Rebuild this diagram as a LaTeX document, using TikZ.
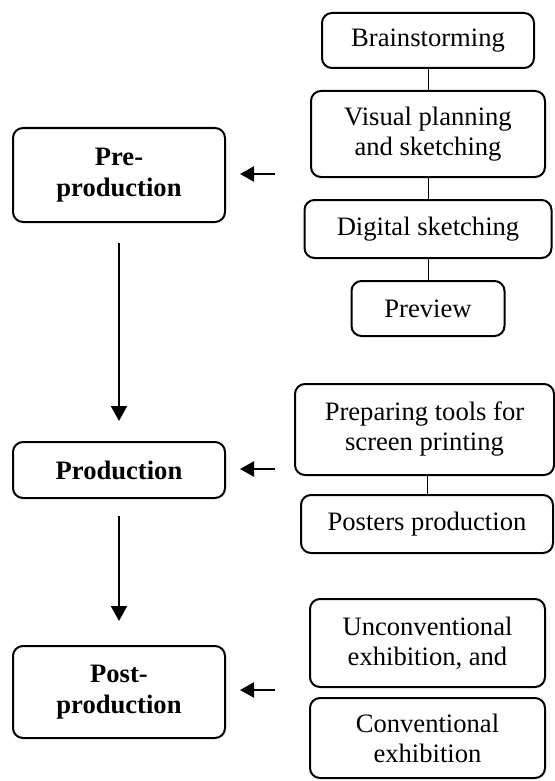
\documentclass[tikz,border=0pt]{standalone}
\usepackage{fontspec}
\setmainfont{Liberation Serif}
\usetikzlibrary{arrows.meta}

\begin{document}
\begin{tikzpicture}[x=0.5pt,y=-0.5pt,
  box/.style={draw,line width=1pt,rounded corners=5pt,align=center,inner sep=0pt,
    font=\fontsize{13.3}{15}\selectfont},
  stage/.style={box,minimum width=106pt,font=\fontsize{13.3}{15.5}\selectfont\bfseries},
  link/.style={line width=0.5pt},
  feed/.style={line width=1.2pt,shorten >=7pt,-{Triangle[length=7pt,width=7.5pt]}},
  flow/.style={line width=1pt,-{Triangle[length=7.5pt,width=8pt]}}]
 \useasboundingbox (0,0) rectangle (555,781);
 % stages
 \node[stage,minimum height=47pt] (pre) at (119,175) {Pre-\\production};
 \node[stage,minimum height=28pt] (prod) at (119,470) {Production};
 \node[stage,minimum height=46pt] (post) at (119,692) {Post-\\production};
 \draw[flow,shorten <=10pt,shorten >=10pt] (pre.south) -- (prod.north);
 \draw[flow,shorten <=8.5pt,shorten >=12pt] (prod.south) -- (post.north);
 %
 \node[box,minimum width=106pt,minimum height=27.5pt] (brain) at (428,40.5) {Brainstorming};
 \node[box,minimum width=117pt,minimum height=43pt] (visual) at (428,134) {Visual planning\\and sketching};
 \node[box,minimum width=123.5pt,minimum height=29pt] (digital) at (428,229) {Digital sketching};
 \node[box,minimum width=76.5pt,minimum height=27.5pt] (preview) at (428,308.5) {Preview};
 \draw[link] (brain) -- (visual);
 \draw[link] (visual) -- (digital);
 \draw[link] (digital) -- (preview);
 %
 \node[box,minimum width=129.5pt,minimum height=45.5pt] (prep) at (424.5,429.5) {Preparing tools for\\screen printing};
 \node[box,minimum width=126pt,minimum height=29pt] (posters) at (427,524) {Posters production};
 \draw[link] (prep.south -| posters.north) -- (posters.north);
 %
 \node[box,minimum width=117.5pt,minimum height=44pt] (uncon) at (427.5,643) {Unconventional\\exhibition, and};
 \node[box,minimum width=117.5pt,minimum height=40pt] (conv) at (427.5,738) {Conventional\\exhibition};
 %
 \coordinate (t1) at (275,174);
 \coordinate (t2) at (275,469);
 \coordinate (t3) at (275,690);
 \draw[feed] (t1) -- (t1 -| pre.east);
 \draw[feed] (t2) -- (t2 -| prod.east);
 \draw[feed] (t3) -- (t3 -| post.east);
\end{tikzpicture}
\end{document}
